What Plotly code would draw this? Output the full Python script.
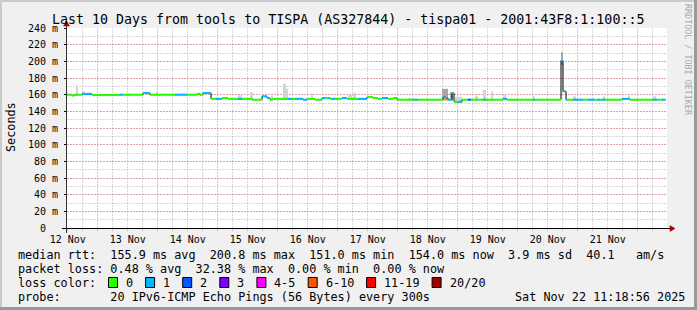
import plotly.graph_objects as go
from datetime import datetime, timedelta

# ------------------------------------------------------------------ data
start_time = datetime(2025, 11, 12, 11, 40)
span_days = 10

# median RTT segments: start hour (from start_time), value in ms, loss class
seg_hour = [0, 2, 3.2, 6, 10, 21.2, 22.4, 30.4, 33.2, 43.2, 48, 52, 53.2, 54.4, 57.6, 59.6, 62, 64.4,
            68.4, 70, 74, 78, 80, 81.2, 82.4, 88.4, 90, 91.2, 94.4, 96, 99.2, 102, 103.2, 104.4, 105.2,
            106, 107.2, 110, 112, 116.4, 120, 122.4, 124.4, 126, 128.4, 130.4, 132, 138.4, 140.4, 150.4,
            151.6, 152.4, 154, 154.8, 156.4, 158, 160.4, 161.6, 166.4, 167.6, 174.4, 176, 186.4, 187.2,
            197.6, 198.4, 199.6, 200, 202.4, 206.4, 208.4, 211.2, 212, 213.2, 214, 215.2, 222, 225.2,
            234.4, 236, 238, 239.2]
seg_rtt = [160, 159, 160, 161, 159.5, 160, 160, 162, 160, 160, 160, 161, 160, 162, 155, 155, 156, 155,
           155, 155, 154, 158, 156, 154, 155, 155, 155, 155, 154, 155, 154, 156, 156, 156, 155, 155,
           155, 156, 155, 155, 157, 156, 155, 156, 155, 156, 154, 154, 154, 157, 156, 154, 162, 151.5,
           151.5, 154, 154, 154, 154, 154, 155, 154, 154, 154, 201, 164, 154, 154, 154, 154, 154, 154,
           154, 154, 154, 154, 155, 154, 154, 154, 154, 154]
seg_loss = [0, 0, 0, 1, 0, 1, 0, 1, 0, 1, 0, 0, 0, 1, 0, 1, 0, 0, 1, 0, 0, 1, 1, 0, 0, 1, 0, 1, 1, 0,
            0, 1, 0, 1, 0, 1, 0, 1, 0, 1, 0, 0, 0, 1, 0, 0, 0, 1, 0, 1, 5, 1, 1, 0, 1, 0, 2, 0, 1, 0,
            1, 0, 1, 0, 1, 1, 1, 0, 1, 0, 1, 0, 1, 0, 1, 0, 1, 0, 1, 0, 1, 0]
last_hour = 239.6

# smoke (spread of the 20 pings)
smoke_h0 = [3.6, 6, 24.4, 35.6, 68.4, 73.2, 81.6, 86.4, 87.6, 97.6, 112.4, 114.4, 136.4, 150, 153.2,
            155.2, 163.2, 166.4, 169.6, 174.4, 186, 197.6, 202.4, 214.4, 224.4, 234.4]
smoke_h1 = [4.4, 7.2, 25.2, 36.4, 70, 74.4, 82.4, 87.6, 88.4, 98.4, 114, 115.6, 138, 152.4, 154.4,
            158, 164.4, 167.6, 170.4, 175.6, 187.2, 198.4, 203.6, 215.2, 225.2, 235.6]
smoke_lo = [159, 160, 159, 159, 154, 154, 153, 154, 154, 154, 154, 154, 153, 153, 153,
            150, 153, 153, 153, 154, 153, 195, 153, 153, 154, 153]
smoke_hi = [171, 164, 161.5, 164, 159.5, 163, 159, 173, 167, 161, 159.5, 162, 156, 167, 163,
            157.5, 159, 165.6, 164, 160, 158, 211, 158, 158, 159, 158]
smoke_dark = [0, 0, 0, 0, 0, 0, 0, 0, 0, 0, 0, 0, 0, 1, 1, 0, 0, 0, 0, 0, 0, 1, 0, 0, 0, 0]

y_ticks = list(range(0, 241, 20))
y_tick_text = ["0\u00a0\u00a0"] + [f"{v} m" for v in y_ticks[1:]]

loss_labels = ["0", "1", "2", "3", "4-5", "6-10", "11-19", "20/20"]
loss_colors = ["#26ff00", "#00b8ff", "#0059ff", "#7e00ff", "#ff00ff", "#ff5500", "#ff0000", "#a10000"]

title_text = "Last 10 Days from tools to TISPA (AS327844) - tispa01 - 2001:43F8:1:100::5"
line_rtt = "median rtt:  155.9 ms avg  200.8 ms max  151.0 ms min  154.0 ms now  3.9 ms sd  40.1   am/s"
line_loss = "packet loss: 0.48 % avg  32.38 % max  0.00 % min  0.00 % now"
line_color = "loss color:"
line_probe = "probe:       20 IPv6-ICMP Echo Pings (56 Bytes) every 300s"
stamp = "Sat Nov 22 11:18:56 2025"
watermark = "RRDTOOL / TOBI OETIKER"

# ------------------------------------------------------------------ layout geometry
W, H = 697, 310
L, R, T, B = 67, 30, 28, 82
PW, PH = W - L - R, H - T - B
FONT = "DejaVu Sans Mono"
CH = 7.1  # legend char advance
MAJ = "rgba(225,90,90,0.42)"
MIN = "rgba(150,150,150,0.38)"


def px(x):
    return (x - L) / PW


def py(y):
    return 1 - (y - T) / PH


def t(h):
    return start_time + timedelta(hours=h)


def nb(s):
    return s.replace(" ", "\u00a0")


fig = go.Figure()

# smoke
for dark in (0, 1):
    idx = [i for i in range(len(smoke_h0)) if smoke_dark[i] == dark]
    fig.add_trace(go.Bar(
        x=[t((smoke_h0[i] + smoke_h1[i]) / 2) for i in idx],
        width=[(smoke_h1[i] - smoke_h0[i]) * 3600 * 1000 for i in idx],
        base=[smoke_lo[i] for i in idx],
        y=[smoke_hi[i] - smoke_lo[i] for i in idx],
        marker=dict(color="#a8a8a8" if dark else "#d4d4d4", line=dict(width=0)),
        hoverinfo="skip",
    ))

# black step line (transitions)
fig.add_trace(go.Scatter(
    x=[t(h) for h in seg_hour] + [t(last_hour)],
    y=seg_rtt + [seg_rtt[-1]],
    mode="lines", line=dict(color="black", width=1, shape="hv"), hoverinfo="skip",
))

# coloured median by loss
ends = seg_hour[1:] + [last_hour]
for k, col in enumerate(loss_colors):
    xs, ys = [], []
    for h0, h1, v, lc in zip(seg_hour, ends, seg_rtt, seg_loss):
        if lc == k:
            xs += [t(h0), t(h1), None]
            ys += [v, v, None]
    if xs:
        fig.add_trace(go.Scatter(x=xs, y=ys, mode="lines",
                                 line=dict(color=col, width=2), hoverinfo="skip"))

shapes = []
# frame
shapes.append(dict(type="rect", xref="paper", yref="paper", x0=px(0), x1=px(W), y0=py(0), y1=py(2),
                   fillcolor="#cbcbcb", line=dict(width=0), layer="below"))
shapes.append(dict(type="rect", xref="paper", yref="paper", x0=px(0), x1=px(2), y0=py(0), y1=py(H),
                   fillcolor="#cbcbcb", line=dict(width=0), layer="below"))
shapes.append(dict(type="rect", xref="paper", yref="paper", x0=px(0), x1=px(W), y0=py(H - 3), y1=py(H),
                   fillcolor="#999999", line=dict(width=0), layer="below"))
shapes.append(dict(type="rect", xref="paper", yref="paper", x0=px(W - 3), x1=px(W), y0=py(0), y1=py(H),
                   fillcolor="#999999", line=dict(width=0), layer="below"))
# axes
shapes.append(dict(type="line", xref="paper", yref="paper", x0=px(62), x1=px(671), y0=py(228.5), y1=py(228.5),
                   line=dict(color="black", width=1)))
shapes.append(dict(type="line", xref="paper", yref="paper", x0=px(66.5), x1=px(66.5), y0=py(233), y1=py(25),
                   line=dict(color="#333333", width=1)))
# arrows
shapes.append(dict(type="path", xref="paper", yref="paper",
                   path=f"M {px(670)} {py(225.5)} L {px(675)} {py(228.5)} L {px(670)} {py(231.5)} Z",
                   fillcolor="#a00000", line=dict(color="#a00000", width=0.5)))
shapes.append(dict(type="path", xref="paper", yref="paper",
                   path=f"M {px(63.5)} {py(26)} L {px(66.5)} {py(21)} L {px(69.5)} {py(26)} Z",
                   fillcolor="#a00000", line=dict(color="#a00000", width=0.5)))

annotations = []


def txt(x, y, s, size=11.8, anchor="left", color="black", angle=0):
    annotations.append(dict(x=px(x), y=py(y), xref="paper", yref="paper", text=nb(s), showarrow=False,
                            xanchor=anchor, yanchor="middle", textangle=angle,
                            font=dict(family=FONT, size=size, color=color)))


txt(347.5, 19, title_text, size=13.3, anchor="center")
txt(11, 127, "Seconds", size=11.8, anchor="center", angle=-90)
txt(688, 60, watermark, size=8.4, anchor="center", color="#a8a8a8", angle=90)
txt(16, 254.5, line_rtt)
txt(16, 268.5, line_loss)
txt(16, 282.5, line_color)
txt(16, 296.5, line_probe)
txt(513, 296.5, stamp)

# loss colour boxes
bx = 108
for lab, col in zip(loss_labels, loss_colors):
    shapes.append(dict(type="rect", xref="paper", yref="paper", x0=px(bx + 0.5), x1=px(bx + 9.5),
                       y0=py(277.5), y1=py(287.5), fillcolor=col, line=dict(color="black", width=1)))
    txt(bx + 16, 282.5, lab)
    bx = bx + 16 + len(lab) * CH + 14

fig.update_layout(
    width=W, height=H,
    margin=dict(l=L, r=R, t=T, b=B, pad=0),
    paper_bgcolor="#f0f0f0", plot_bgcolor="#ffffff",
    showlegend=False, barmode="overlay",
    font=dict(family=FONT, size=10, color="black"),
    shapes=shapes, annotations=annotations,
    xaxis=dict(
        type="date", range=[start_time, start_time + timedelta(days=span_days)],
        tick0="2025-11-12", dtick=86400000, tickformat="%d %b", ticklabelmode="period",
        showgrid=True, gridcolor=MAJ, griddash="2px,1px", gridwidth=1,
        ticks="outside", ticklen=2, tickcolor=MAJ,
        tickfont=dict(family=FONT, size=10, color="black"),
        zeroline=False, showline=False, fixedrange=True,
        minor=dict(dtick=6 * 3600 * 1000, tick0="2025-11-12", showgrid=True,
                   gridcolor=MIN, griddash="2px,1px", ticks="outside", ticklen=2,
                   tickcolor=MIN),
    ),
    yaxis=dict(
        range=[0, 240], tickvals=y_ticks, ticktext=y_tick_text,
        showgrid=True, gridcolor=MAJ, griddash="2px,1px", gridwidth=1,
        ticks="outside", ticklen=2, tickcolor="black", ticklabelstandoff=4,
        tickfont=dict(family=FONT, size=10, color="black"),
        zeroline=False, showline=False, fixedrange=True,
        minor=dict(dtick=10, showgrid=True, gridcolor=MIN, griddash="2px,1px"),
    ),
)

fig.write_html("out.html")
